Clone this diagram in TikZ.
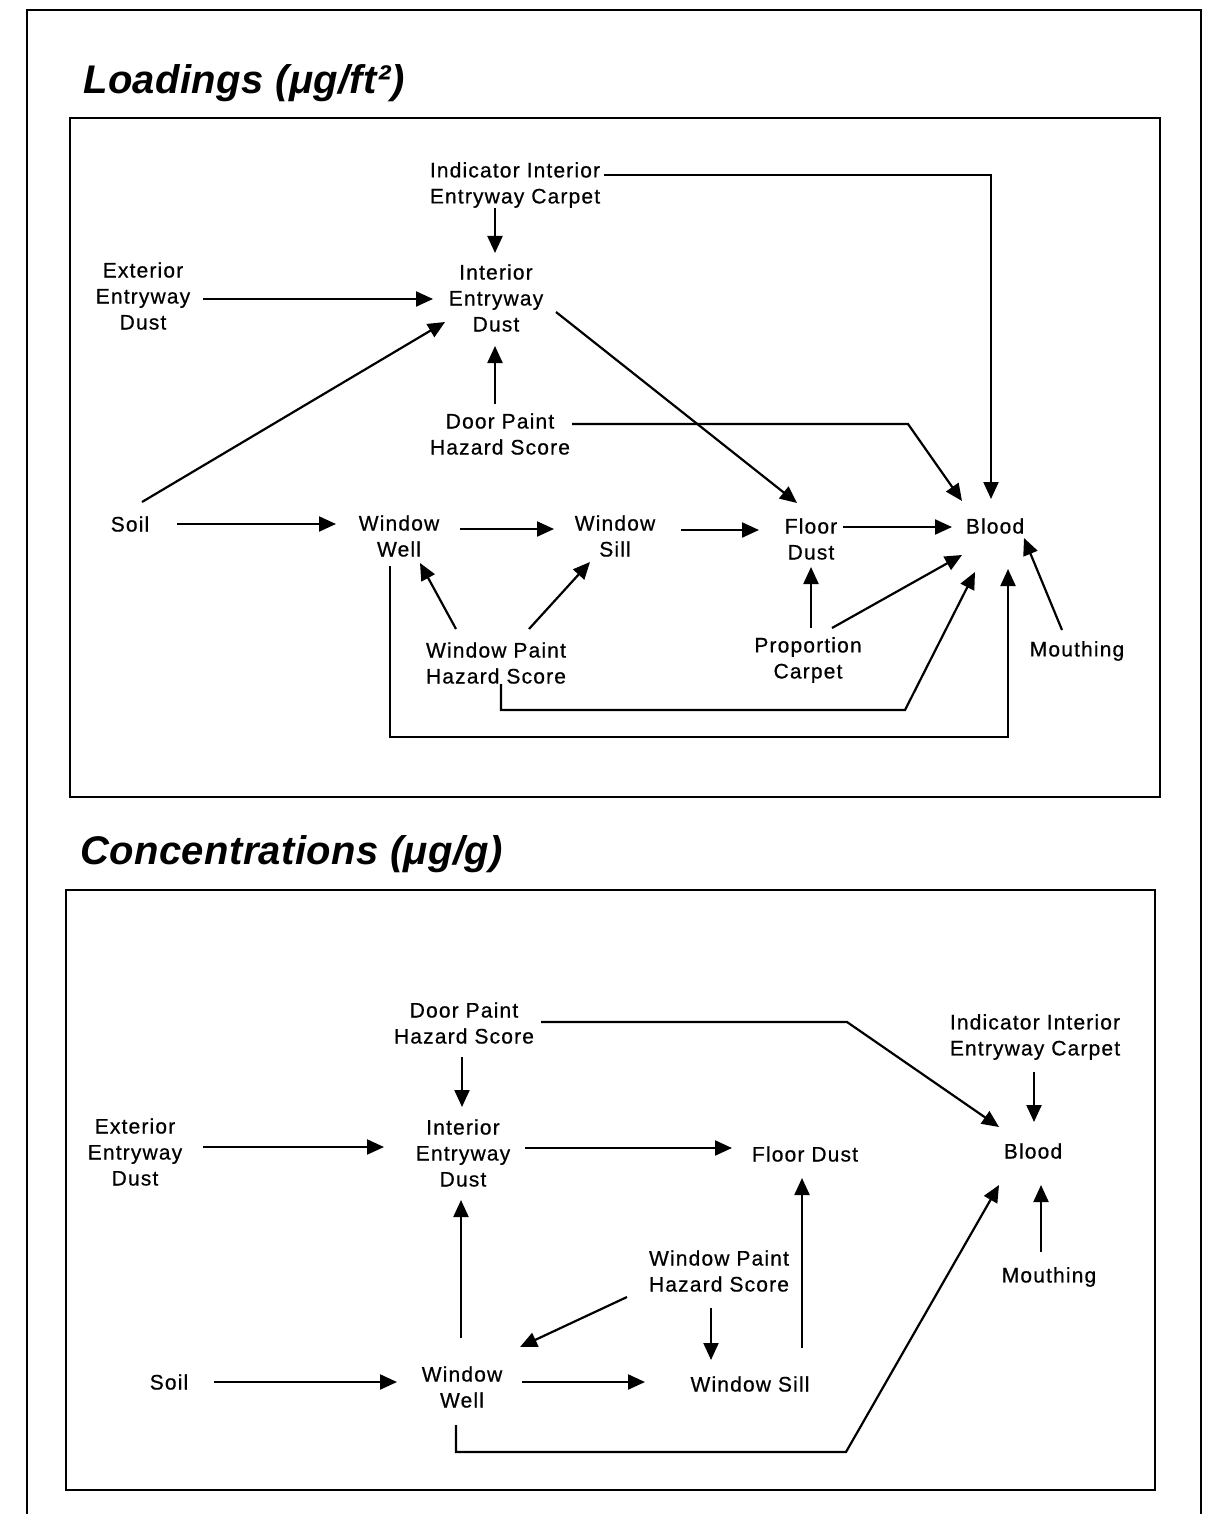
\documentclass[tikz,border=0pt]{standalone}
\usepackage{fontspec}
\usetikzlibrary{arrows.meta}
\newfontfamily\labfont[LetterSpace=5.5,FakeBold=0.6]{Liberation Sans}
\newfontfamily\titfont[LetterSpace=1]{Liberation Sans}
\tikzset{
  lab/.style={font=\labfont\fontsize{21pt}{26pt}\selectfont, align=center, inner sep=0pt},
  ttl/.style={font=\titfont\bfseries\itshape\fontsize{40pt}{48pt}\selectfont, anchor=base west, inner sep=0pt},
  arr/.style={-{Triangle[length=17pt,width=15pt]}, line width=2.2pt},
  frm/.style={line width=2.6pt}
}
\begin{document}
\begin{tikzpicture}[x=1pt,y=-1pt]
\useasboundingbox (0,0) rectangle (1206,1514);
% frames
\draw[frm] (27,1514) -- (27,10) -- (1201,10) -- (1201,1514);
\draw[frm] (70,118) rectangle (1160,797);
\draw[frm] (66,890) rectangle (1155,1490);
% titles
\node[ttl] (t1) at (83,94) {Loadings (μg/ft²)};
\node[ttl] (t2) at (80,864) {Concentrations (μg/g)};

% ---------- panel 1 nodes ----------
\node[lab] (indc1) at (515,185) {Indicator Interior\\Entryway Carpet};
\node[lab] (ied1) at (496,298) {Interior\\Entryway\\Dust};
\node[lab] (ext1) at (143,296) {Exterior\\Entryway\\Dust};
\node[lab] (door1) at (500,434) {Door Paint\\Hazard Score};
\node[lab] (soil1) at (130,524) {Soil};
\node[lab] (ww1) at (399,536) {Window\\Well};
\node[lab] (ws1) at (615,536) {Window\\Sill};
\node[lab] (fd1) at (811,539) {Floor\\Dust};
\node[lab] (blood1) at (995,526) {Blood};
\node[lab] (wp1) at (496,663) {Window Paint\\Hazard Score};
\node[lab] (pc1) at (808,660) {Proportion\\Carpet};
\node[lab] (mouth1) at (1077,651) {Mouthing};

% ---------- panel 1 connectors ----------
\draw[arr] ([shift={(89,-10)}]indc1.center) -| ([shift={(-4,-27)}]blood1.center);
\draw[arr] ([shift={(-20,23)}]indc1.center) -- ([shift={(-1,-45)}]ied1.center);
\draw[arr] ([shift={(60,3)}]ext1.center) -- ([shift={(-63,1)}]ied1.center);
\draw[arr] ([shift={(12,-22)}]soil1.center) -- ([shift={(-51,24)}]ied1.center);
\draw[arr] ([shift={(-5,-30)}]door1.center) -- ([shift={(-1,48)}]ied1.center);
\draw[arr] ([shift={(60,14)}]ied1.center) -- ([shift={(-14,-36)}]fd1.center);
\draw[arr] ([shift={(72,-10)}]door1.center) -- ++(336,0) -- ([shift={(-33,-25)}]blood1.center);
\draw[arr] ([shift={(47,0)}]soil1.center) -- ([shift={(-63,-12)}]ww1.center);
\draw[arr] ([shift={(61,-7)}]ww1.center) -- ([shift={(-61,-7)}]ws1.center);
\draw[arr] ([shift={(66,-6)}]ws1.center) -- ([shift={(-52,-9)}]fd1.center);
\draw[arr] ([shift={(32,-12)}]fd1.center) -- ([shift={(-43,1)}]blood1.center);
\draw[arr] ([shift={(-40,-34)}]wp1.center) -- ([shift={(21,27)}]ww1.center);
\draw[arr] ([shift={(33,-34)}]wp1.center) -- ([shift={(-25,26)}]ws1.center);
\draw[arr] ([shift={(3,-32)}]pc1.center) -- ([shift={(0,28)}]fd1.center);
\draw[arr] ([shift={(24,-32)}]pc1.center) -- ([shift={(-33,29)}]blood1.center);
\draw[arr] ([shift={(5,21)}]wp1.center) -- ++(0,26) -- ++(404,0) -- ([shift={(-20,46)}]blood1.center);
\draw[arr] ([shift={(-9,30)}]ww1.center) -- ++(0,171) -| ([shift={(13,43)}]blood1.center);
\draw[arr] ([shift={(-15,-21)}]mouth1.center) -- ([shift={(29,12)}]blood1.center);

% ---------- panel 2 nodes ----------
\node[lab] (door2) at (464,1023) {Door Paint\\Hazard Score};
\node[lab] (indc2) at (1035,1037) {Indicator Interior\\Entryway Carpet};
\node[lab] (ext2) at (135,1152) {Exterior\\Entryway\\Dust};
\node[lab] (ied2) at (463,1153) {Interior\\Entryway\\Dust};
\node[lab] (fd2) at (805,1154) {Floor Dust};
\node[lab] (blood2) at (1033,1151) {Blood};
\node[lab] (wp2) at (719,1271) {Window Paint\\Hazard Score};
\node[lab] (mouth2) at (1049,1277) {Mouthing};
\node[lab] (soil2) at (169,1382) {Soil};
\node[lab] (ww2) at (462,1387) {Window\\Well};
\node[lab] (ws2) at (750,1384) {Window Sill};

% ---------- panel 2 connectors ----------
\draw[arr] ([shift={(-2,34)}]door2.center) -- ([shift={(-1,-46)}]ied2.center);
\draw[arr] ([shift={(77,-1)}]door2.center) -- ++(306,0) -- ([shift={(-34,-24)}]blood2.center);
\draw[arr] ([shift={(-1,35)}]indc2.center) -- ([shift={(1,-29)}]blood2.center);
\draw[arr] ([shift={(68,-5)}]ext2.center) -- ([shift={(-79,-6)}]ied2.center);
\draw[arr] ([shift={(62,-5)}]ied2.center) -- ([shift={(-73,-6)}]fd2.center);
\draw[arr] ([shift={(-1,-49)}]ww2.center) -- ([shift={(-2,47)}]ied2.center);
\draw[arr] ([shift={(52,-36)}]ws2.center) -- ([shift={(-3,24)}]fd2.center);
\draw[arr] ([shift={(-92,26)}]wp2.center) -- ([shift={(58,-40)}]ww2.center);
\draw[arr] ([shift={(-8,37)}]wp2.center) -- ([shift={(-39,-24)}]ws2.center);
\draw[arr] ([shift={(45,0)}]soil2.center) -- ([shift={(-65,-5)}]ww2.center);
\draw[arr] ([shift={(60,-5)}]ww2.center) -- ([shift={(-105,-2)}]ws2.center);
\draw[arr] ([shift={(-6,38)}]ww2.center) -- ++(0,27) -- ++(390,0) -- ([shift={(-34,34)}]blood2.center);
\draw[arr] ([shift={(-8,-25)}]mouth2.center) -- ([shift={(8,34)}]blood2.center);
\end{tikzpicture}
\end{document}
